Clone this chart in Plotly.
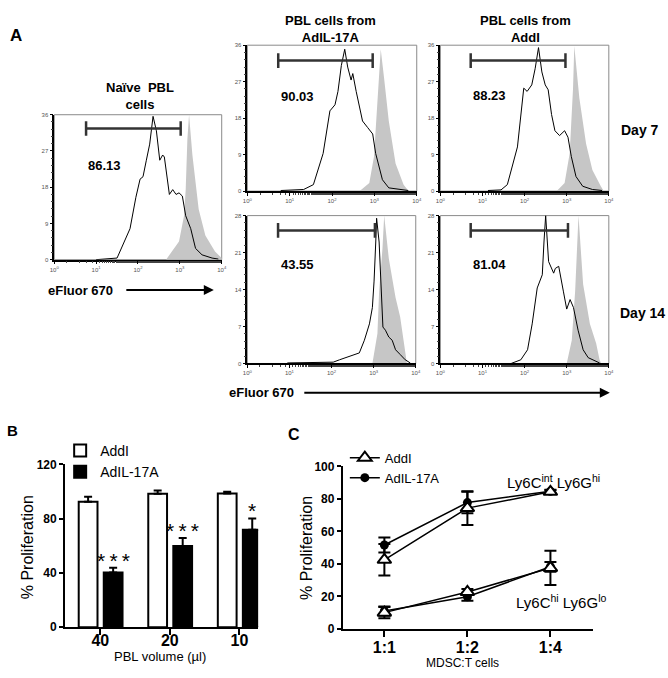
import numpy as np
import plotly.graph_objects as go

W, H = 668, 678
FONT = "Liberation Sans, Arial, sans-serif"

# ---- panel A: eFluor 670 histograms (x in log10 units, y in counts) ----
panel_names = ["naive", "d7_AdIL17A", "d7_AddI", "d14_AdIL17A", "d14_AddI"]
y_max = [36, 36, 36, 28, 28]

open_x = [
    [1.0, 1.19, 1.5, 1.81, 1.95, 2.05, 2.12, 2.2, 2.28, 2.36, 2.44, 2.52, 2.59, 2.63, 2.67, 2.75, 2.83, 2.91, 2.98, 3.06, 3.14, 3.26, 3.375, 3.53, 3.77, 3.92],
    [0.79, 1.33, 1.56, 1.79, 1.95, 2.0, 2.07, 2.14, 2.22, 2.3, 2.37, 2.45, 2.49, 2.57, 2.72, 2.84, 2.96, 3.03, 3.19, 3.34, 3.57, 3.8],
    [1.13, 1.44, 1.59, 1.83, 1.98, 2.06, 2.17, 2.25, 2.33, 2.41, 2.49, 2.56, 2.64, 2.72, 2.83, 2.95, 3.03, 3.11, 3.22, 3.38, 3.61, 3.84],
    [0.95, 1.5, 2.04, 2.19, 2.43, 2.66, 2.78, 2.9, 2.97, 3.01, 3.05, 3.07, 3.13, 3.19, 3.22, 3.28, 3.36, 3.44, 3.52, 3.63, 3.75, 3.87],
    [1.68, 1.91, 2.07, 2.18, 2.3, 2.42, 2.46, 2.5, 2.57, 2.65, 2.69, 2.73, 2.81, 2.92, 3.0, 3.08, 3.16, 3.27, 3.39, 3.51, 3.7, 3.78],
]
open_y = [
    [0, 0.1, 0.4, 7.7, 15.5, 20, 20.6, 24.7, 28.7, 35.6, 32, 24.7, 26, 25.5, 22, 16.2, 17.4, 16.2, 16.6, 15.8, 10.9, 7.7, 2.8, 1.2, 0.4, 0.15],
    [0.15, 0.4, 1.6, 9.3, 19.8, 20.5, 21.3, 24.6, 31, 35, 30.6, 27.4, 29, 24.6, 17.3, 15.7, 14.1, 9.3, 2.8, 0.8, 0.4, 0.15],
    [0.15, 0.3, 1.6, 10.9, 25.4, 24.6, 26.2, 30.2, 35.4, 29.4, 26.2, 25, 18.9, 14.9, 13.7, 14.9, 13.3, 8.5, 3.6, 1.2, 0.4, 0.15],
    [0.1, 0.2, 0.25, 0.7, 1.4, 2, 4.4, 7.5, 10.6, 15.6, 23, 27.5, 23, 13.7, 6.9, 6.3, 5, 4.4, 2.6, 1.7, 0.7, 0.1],
    [0, 0.7, 2.6, 7.5, 14.3, 16.8, 23, 28, 19.3, 17.7, 17.1, 18, 18.4, 13.7, 10.3, 12.1, 10.6, 6.3, 2.6, 1.1, 0.4, 0.1],
]
fill_x = [
    [2.67, 2.98, 3.1, 3.14, 3.18, 3.22, 3.3, 3.45, 3.61, 3.84, 4.0],
    [2.65, 2.88, 2.99, 3.07, 3.15, 3.23, 3.34, 3.5, 3.69, 3.81],
    [2.76, 2.95, 3.07, 3.15, 3.18, 3.3, 3.46, 3.61, 3.81, 3.88],
    [2.97, 3.09, 3.13, 3.21, 3.25, 3.36, 3.52, 3.63, 3.71, 3.79],
    [3.0, 3.12, 3.2, 3.25, 3.28, 3.39, 3.55, 3.7, 3.78, 3.82],
]
fill_y = [
    [0, 4.5, 10.9, 17.4, 30, 36, 26, 12.5, 6, 2, 0.4],
    [0, 2, 8.5, 21.3, 35, 27.8, 17.3, 6.8, 1.6, 0],
    [0, 2, 9.3, 25.4, 35.8, 23, 11.7, 5.2, 1.2, 0],
    [0, 5.7, 13.7, 21.8, 28, 19.9, 12.5, 8.8, 4.4, 0],
    [0, 4.4, 13.7, 23, 28, 15, 7.5, 3.8, 0.7, 0],
]
gate_lo = [0.76, 0.73, 0.72, 0.73, 0.72]
gate_hi = [3.02, 2.96, 2.97, 3.03, 3.03]
gate_y = [32.6, 32.2, 32.2, 25.2, 25.2]
gate_pct = ["86.13", "90.03", "88.23", "43.55", "81.04"]
pct_x = [1.2, 1.18, 1.17, 1.19, 1.17]
pct_y = [23.5, 23.3, 23.6, 18.7, 18.7]

# ---- panel B ----
pbl_volume = ["40", "20", "10"]
addi_mean = [92.5, 98.3, 98.6]
addi_sem = [3.7, 2.5, 1.2]
adil_mean = [40.3, 59.9, 71.8]
adil_sem = [3.6, 5.8, 8.4]
b_stars = ["***", "***", "*"]

# ---- panel C ----
ratios = ["1:1", "1:2", "1:4"]
int_addi = [42.5, 74.3, 84.3]
int_addi_err = [9.7, 10.4, 1.0]
int_adil = [51.6, 77.7, 84.6]
int_adil_err = [4.6, 6.6, 1.0]
hi_addi = [10.0, 22.7, 37.5]
hi_addi_err = [3.5, 1.8, 10.5]
hi_adil = [11.0, 19.8, 38.2]
hi_adil_err = [2.8, 2.5, 3.0]


def px(x):
    return x / W


def py(y):
    return 1 - y / H


def dx(l, r):
    return [px(l), px(r)]


def dy(t, b):
    return [py(b), py(t)]


fig = go.Figure()
annotations = []


def note(text, x, y, size, bold=False, **kw):
    d = dict(text=text, x=px(x), y=py(y), xref="paper", yref="paper", showarrow=False,
             xanchor="center", yanchor="middle",
             font=dict(family=FONT, size=size, color="black", weight="bold" if bold else "normal"))
    d.update(kw)
    annotations.append(d)


# histogram panel boxes (left, right, top, bottom) in px
hist_boxes = [(50, 220, 110, 258), (246, 418, 39, 188), (442, 613, 39, 188),
              (246, 417, 213, 364), (442, 613, 213, 364)]
shapes = []
layout_axes = {}

for i in range(5):
    n = i + 1
    sx = "" if n == 1 else str(n)
    xa, ya = "x" + sx, "y" + sx
    fig.add_trace(go.Scatter(x=10 ** np.array(fill_x[i]), y=fill_y[i], mode="lines", fill="tozeroy",
                             fillcolor="#c6c6c6", line=dict(width=0, color="#c6c6c6"),
                             xaxis=xa, yaxis=ya, showlegend=False, hoverinfo="skip"))
    fig.add_trace(go.Scatter(x=10 ** np.array(open_x[i]), y=open_y[i], mode="lines",
                             line=dict(width=1, color="black"),
                             xaxis=xa, yaxis=ya, showlegend=False, hoverinfo="skip"))
    lo, hi, gy = 10 ** gate_lo[i], 10 ** gate_hi[i], gate_y[i]
    c = y_max[i] * 0.05
    fig.add_trace(go.Scatter(x=[lo, hi, None, lo, lo, None, hi, hi],
                             y=[gy, gy, None, gy - c, gy + c, None, gy - c, gy + c],
                             mode="lines", line=dict(width=2.5, color="#333"),
                             xaxis=xa, yaxis=ya, showlegend=False, hoverinfo="skip"))
    annotations.append(dict(text=gate_pct[i], x=pct_x[i], y=pct_y[i], xref=xa, yref=ya,
                            xanchor="center", yanchor="middle", showarrow=False,
                            font=dict(family=FONT, size=13, color="black", weight="bold")))
    l, r, t, b = hist_boxes[i]
    layout_axes["xaxis" + sx] = dict(
        domain=dx(l, r), anchor=ya, type="log", range=[0, 4],
        tickvals=[1, 10, 100, 1000, 10000],
        ticktext=["10<sup>%d</sup>" % k for k in range(5)],
        ticks="outside", ticklen=3, tickwidth=1, tickcolor="black",
        tickfont=dict(family=FONT, size=6, color="#555"),
        showline=True, linecolor="black", linewidth=1.5, showgrid=False, zeroline=False,
        minor=dict(ticks="outside", ticklen=2, tickcolor="#444", showgrid=False))
    ym = y_max[i]
    layout_axes["yaxis" + sx] = dict(
        domain=dy(t, b), anchor=xa, range=[0, ym],
        tickvals=[0, ym / 4, ym / 2, ym * 3 / 4, ym],
        ticktext=[str(int(v)) for v in [0, ym / 4, ym / 2, ym * 3 / 4, ym]],
        ticks="outside", ticklen=3, tickwidth=1, tickcolor="black",
        tickfont=dict(family=FONT, size=6, color="#555"),
        showline=True, linecolor="black", linewidth=1.5, showgrid=False, zeroline=False,
        minor=dict(ticks="outside", ticklen=1.5, dtick=ym / 20, tickcolor="#444", showgrid=False))
    shapes.append(dict(type="rect", xref=xa + " domain", yref=ya + " domain", x0=0, x1=1, y0=0, y1=1,
                       line=dict(color="#8a8a8a", width=1), layer="below"))

# ---- panel B bars ----
fig.add_trace(go.Bar(x=pbl_volume, y=addi_mean, name="AddI", width=0.27, offset=-0.31,
                     marker=dict(color="white", line=dict(color="black", width=2)),
                     error_y=dict(type="data", array=addi_sem, arrayminus=[0] * 3, symmetric=False,
                                  color="black", thickness=2, width=4),
                     xaxis="x6", yaxis="y6", legend="legend", hoverinfo="skip"))
fig.add_trace(go.Bar(x=pbl_volume, y=adil_mean, name="AdIL-17A", width=0.27, offset=0.05,
                     marker=dict(color="black", line=dict(color="black", width=2)),
                     error_y=dict(type="data", array=adil_sem, arrayminus=[0] * 3, symmetric=False,
                                  color="black", thickness=2, width=4),
                     xaxis="x6", yaxis="y6", legend="legend", hoverinfo="skip"))
for k, s in enumerate(b_stars):
    # thin spaces between the stars, like the wider GraphPad spacing
    annotations.append(dict(text="\u2009".join(s), x=k + 0.185, y=adil_mean[k] + adil_sem[k],
                            xref="x6", yref="y6", xanchor="center", yanchor="bottom", yshift=-6,
                            showarrow=False, font=dict(family=FONT, size=21, color="black")))

# ---- panel C lines ----
for vals, errs, show in [(int_adil, int_adil_err, True), (hi_adil, hi_adil_err, False)]:
    fig.add_trace(go.Scatter(x=ratios, y=vals, mode="lines+markers", name="AdIL-17A",
                             line=dict(color="black", width=1.5),
                             marker=dict(symbol="circle", size=9, color="black"),
                             error_y=dict(type="data", array=errs, color="black", thickness=2, width=6),
                             xaxis="x7", yaxis="y7", legend="legend2", legendrank=2,
                             showlegend=show, hoverinfo="skip"))
for vals, errs, show in [(int_addi, int_addi_err, True), (hi_addi, hi_addi_err, False)]:
    fig.add_trace(go.Scatter(x=ratios, y=vals, mode="lines+markers", name="AddI",
                             line=dict(color="black", width=1.5),
                             marker=dict(symbol="triangle-up", size=12, color="white",
                                         line=dict(color="black", width=2)),
                             error_y=dict(type="data", array=errs, color="black", thickness=2, width=6),
                             xaxis="x7", yaxis="y7", legend="legend2", legendrank=1,
                             showlegend=show, hoverinfo="skip"))

bold12 = dict(family=FONT, size=12, color="black", weight="bold")
bold16 = dict(family=FONT, size=16, color="black", weight="bold")
layout_axes["xaxis6"] = dict(domain=dx(61, 257), anchor="y6", type="category", range=[-0.506, 2.27],
                             ticks="outside", ticklen=6, tickwidth=2, tickcolor="black",
                             tickfont=bold16, showline=True, linecolor="black", linewidth=2,
                             showgrid=False, ticklabelstandoff=-8)
layout_axes["yaxis6"] = dict(domain=dy(467, 633.3), anchor="x6", range=[0, 120], tickvals=[0, 40, 80, 120],
                             ticks="outside", ticklen=4, tickwidth=2, tickcolor="black",
                             tickfont=bold12, showline=True, linecolor="black", linewidth=2,
                             showgrid=False, zeroline=False)
layout_axes["xaxis7"] = dict(domain=dx(343, 596.7), anchor="y7", type="category", range=[-0.5, 2.51],
                             ticks="outside", ticklen=6, tickwidth=2, tickcolor="black",
                             tickfont=bold16, showline=True, linecolor="black", linewidth=2,
                             showgrid=False, ticklabelstandoff=-3)
layout_axes["yaxis7"] = dict(domain=dy(469, 635), anchor="x7", range=[0, 100], dtick=20,
                             ticks="outside", ticklen=4, tickwidth=2, tickcolor="black",
                             tickfont=bold12, showline=True, linecolor="black", linewidth=2,
                             showgrid=False, zeroline=False)

# ---- text ----
note("A", 11, 29, 17, True)
note("Naïve  PBL<br>cells", 137, 91, 13, True)
note("PBL cells from<br>AdIL-17A", 330, 22, 13, True)
note("PBL cells from<br>AddI", 528, 22, 13, True)
note("Day 7", 623, 126, 14, True, xanchor="left")
note("Day 14", 622, 312, 14, True, xanchor="left")
note("eFluor 670", 42, 289, 13, True, xanchor="left")
note("eFluor 670", 225, 394, 13, True, xanchor="left")
annotations.append(dict(text="", x=px(212), y=py(289), xref="paper", yref="paper", ax=-89, ay=0,
                        showarrow=True, arrowhead=2, arrowsize=1, arrowwidth=2, arrowcolor="black"))
annotations.append(dict(text="", x=px(614), y=py(394), xref="paper", yref="paper", ax=-307, ay=0,
                        showarrow=True, arrowhead=2, arrowsize=1, arrowwidth=2, arrowcolor="black"))

note("B", 8, 432, 15, True)
note("% Proliferation", 23, 552, 16, textangle=-90)
note("PBL volume (µl)", 157, 663, 13)
note("C", 293, 437, 16, True)
note("% Proliferation", 306, 552, 16, textangle=-90)
note("MDSC:T cells", 464, 670, 12)
note("Ly6C<sup>int</sup> Ly6G<sup>hi</sup>", 557, 485, 15)
note("Ly6C<sup>hi</sup> Ly6G<sup>lo</sup>", 564, 607, 15)

fig.update_layout(
    width=W, height=H, margin=dict(l=0, r=0, t=0, b=0),
    paper_bgcolor="white", plot_bgcolor="white",
    font=dict(family=FONT, color="black"),
    barmode="overlay",
    annotations=annotations, shapes=shapes,
    legend=dict(x=px(56), y=py(437), xanchor="left", yanchor="top", bgcolor="rgba(0,0,0,0)",
                font=dict(family=FONT, size=14, color="black"), tracegroupgap=0),
    legend2=dict(x=px(345), y=py(445), xanchor="left", yanchor="top", bgcolor="rgba(0,0,0,0)",
                 font=dict(family=FONT, size=13, color="black"), tracegroupgap=0),
    **layout_axes,
)

# the page body has a default 8px margin; drop it so the figure sits at the window origin
fig.write_html("out.html", config={"displayModeBar": False},
               post_script="document.body.style.margin='0';")
